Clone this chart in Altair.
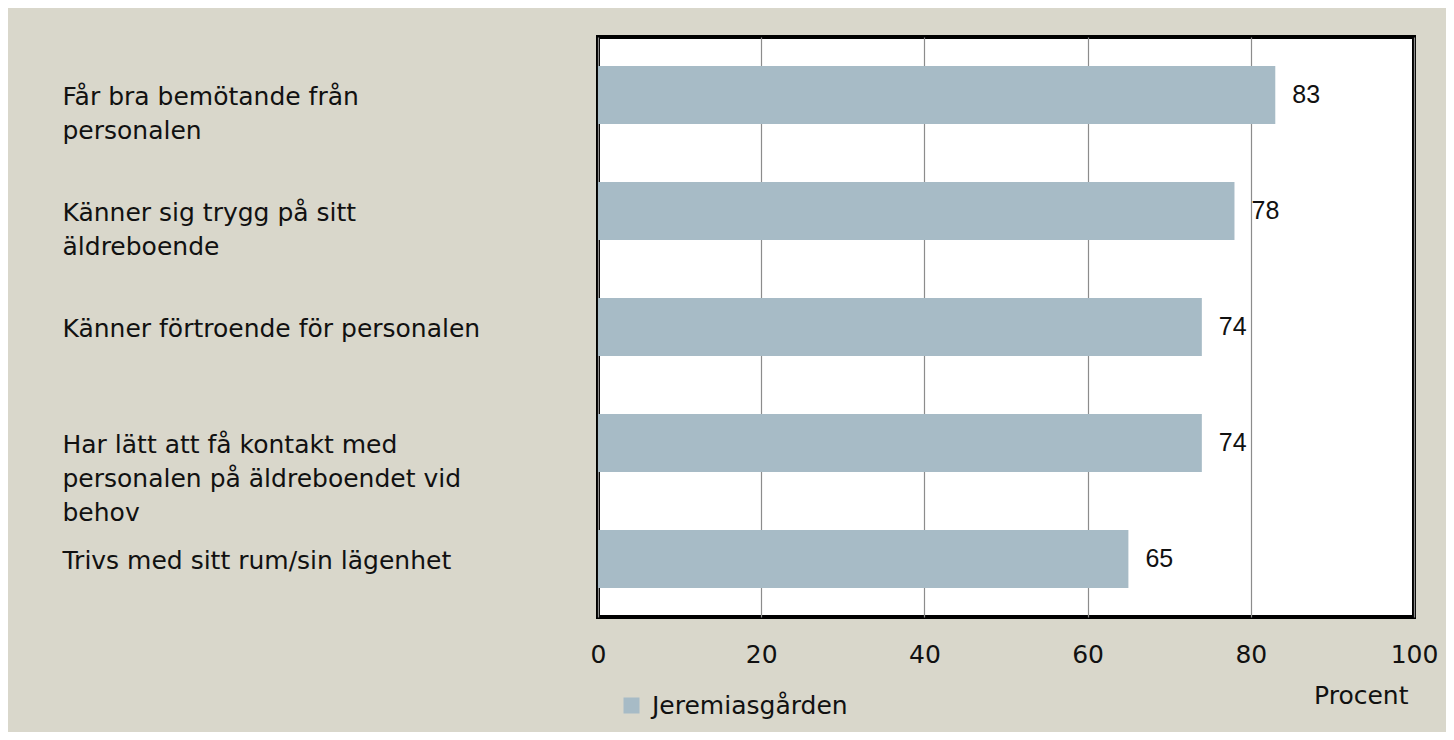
import altair as alt
import pandas as pd

categories = [
    "Får bra bemötande från\npersonalen",
    "Känner sig trygg på sitt\näldreboende",
    "Känner förtroende för personalen",
    "Har lätt att få kontakt med\npersonalen på äldreboendet vid\nbehov",
    "Trivs med sitt rum/sin lägenhet",
]
values = [83, 78, 74, 74, 65]
series = "Jeremiasgården"
x_ticks = [0, 20, 40, 60, 80, 100]

df = pd.DataFrame({"kategori": categories, "procent": values, "serie": [series] * len(values)})

FONT = "DejaVu Sans"
BAR = "#A7BBC6"
FS = 25

y_enc = alt.Y(
    "kategori:N",
    sort=categories,
    scale=alt.Scale(paddingInner=0.5, paddingOuter=0.25),
    axis=alt.Axis(
        title=None,
        domain=False,
        ticks=False,
        tickSize=0,
        grid=False,
        labelAlign="left",
        labelBaseline="top",
        labelPadding=536,
        labelOffset=-10,
        labelLimit=540,
        labelFont=FONT,
        labelFontSize=FS,
        labelLineHeight=34,
        labelColor="#111111",
        labelExpr="split(datum.label, '\\n')",
    ),
)
x_enc = alt.X(
    "procent:Q",
    scale=alt.Scale(domain=[0, 100], nice=False),
    axis=alt.Axis(
        values=x_ticks,
        title="Procent",
        grid=True,
        gridColor="#8C8C8C",
        gridWidth=1.2,
        domain=False,
        ticks=False,
        tickSize=0,
        labelFlush=False,
        labelPadding=25,
        labelFont=FONT,
        labelFontSize=FS,
        labelColor="#111111",
        titleFont=FONT,
        titleFontSize=FS,
        titleFontWeight="normal",
        titleColor="#111111",
        titleAnchor="end",
        titleAlign="right",
        titleBaseline="middle",
        titleX=810,
        titleY=78,
    ),
)

bars = alt.Chart(df).mark_bar().encode(
    x=x_enc,
    y=y_enc,
    color=alt.Color(
        "serie:N",
        scale=alt.Scale(range=[BAR]),
        legend=alt.Legend(
            title=None,
            orient="none",
            legendX=21,
            legendY=656,
            symbolType="square",
            symbolSize=256,
            symbolStrokeWidth=0,
            labelFont=FONT,
            labelFontSize=FS,
            labelColor="#111111",
            labelOffset=8,
            labelLimit=400,
        ),
    ),
)

labels = alt.Chart(df).mark_text(
    align="left", baseline="middle", dx=17, font="Liberation Sans", fontSize=25, color="#111111"
).encode(
    x=alt.X("procent:Q"),
    y=alt.Y("kategori:N", sort=categories),
    text=alt.Text("procent:Q"),
)

chart = (
    alt.layer(bars, labels)
    .properties(
        width=816,
        height=580,
        autosize=alt.AutoSizeParams(type="none"),
        padding={"left": 590, "top": 29, "right": 32, "bottom": 115},
        background="#D9D7CB",
    )
    .configure_view(fill="white", stroke="black", strokeWidth=4)
)

chart.save("out.html", embed_options={"renderer": "svg", "actions": False})
